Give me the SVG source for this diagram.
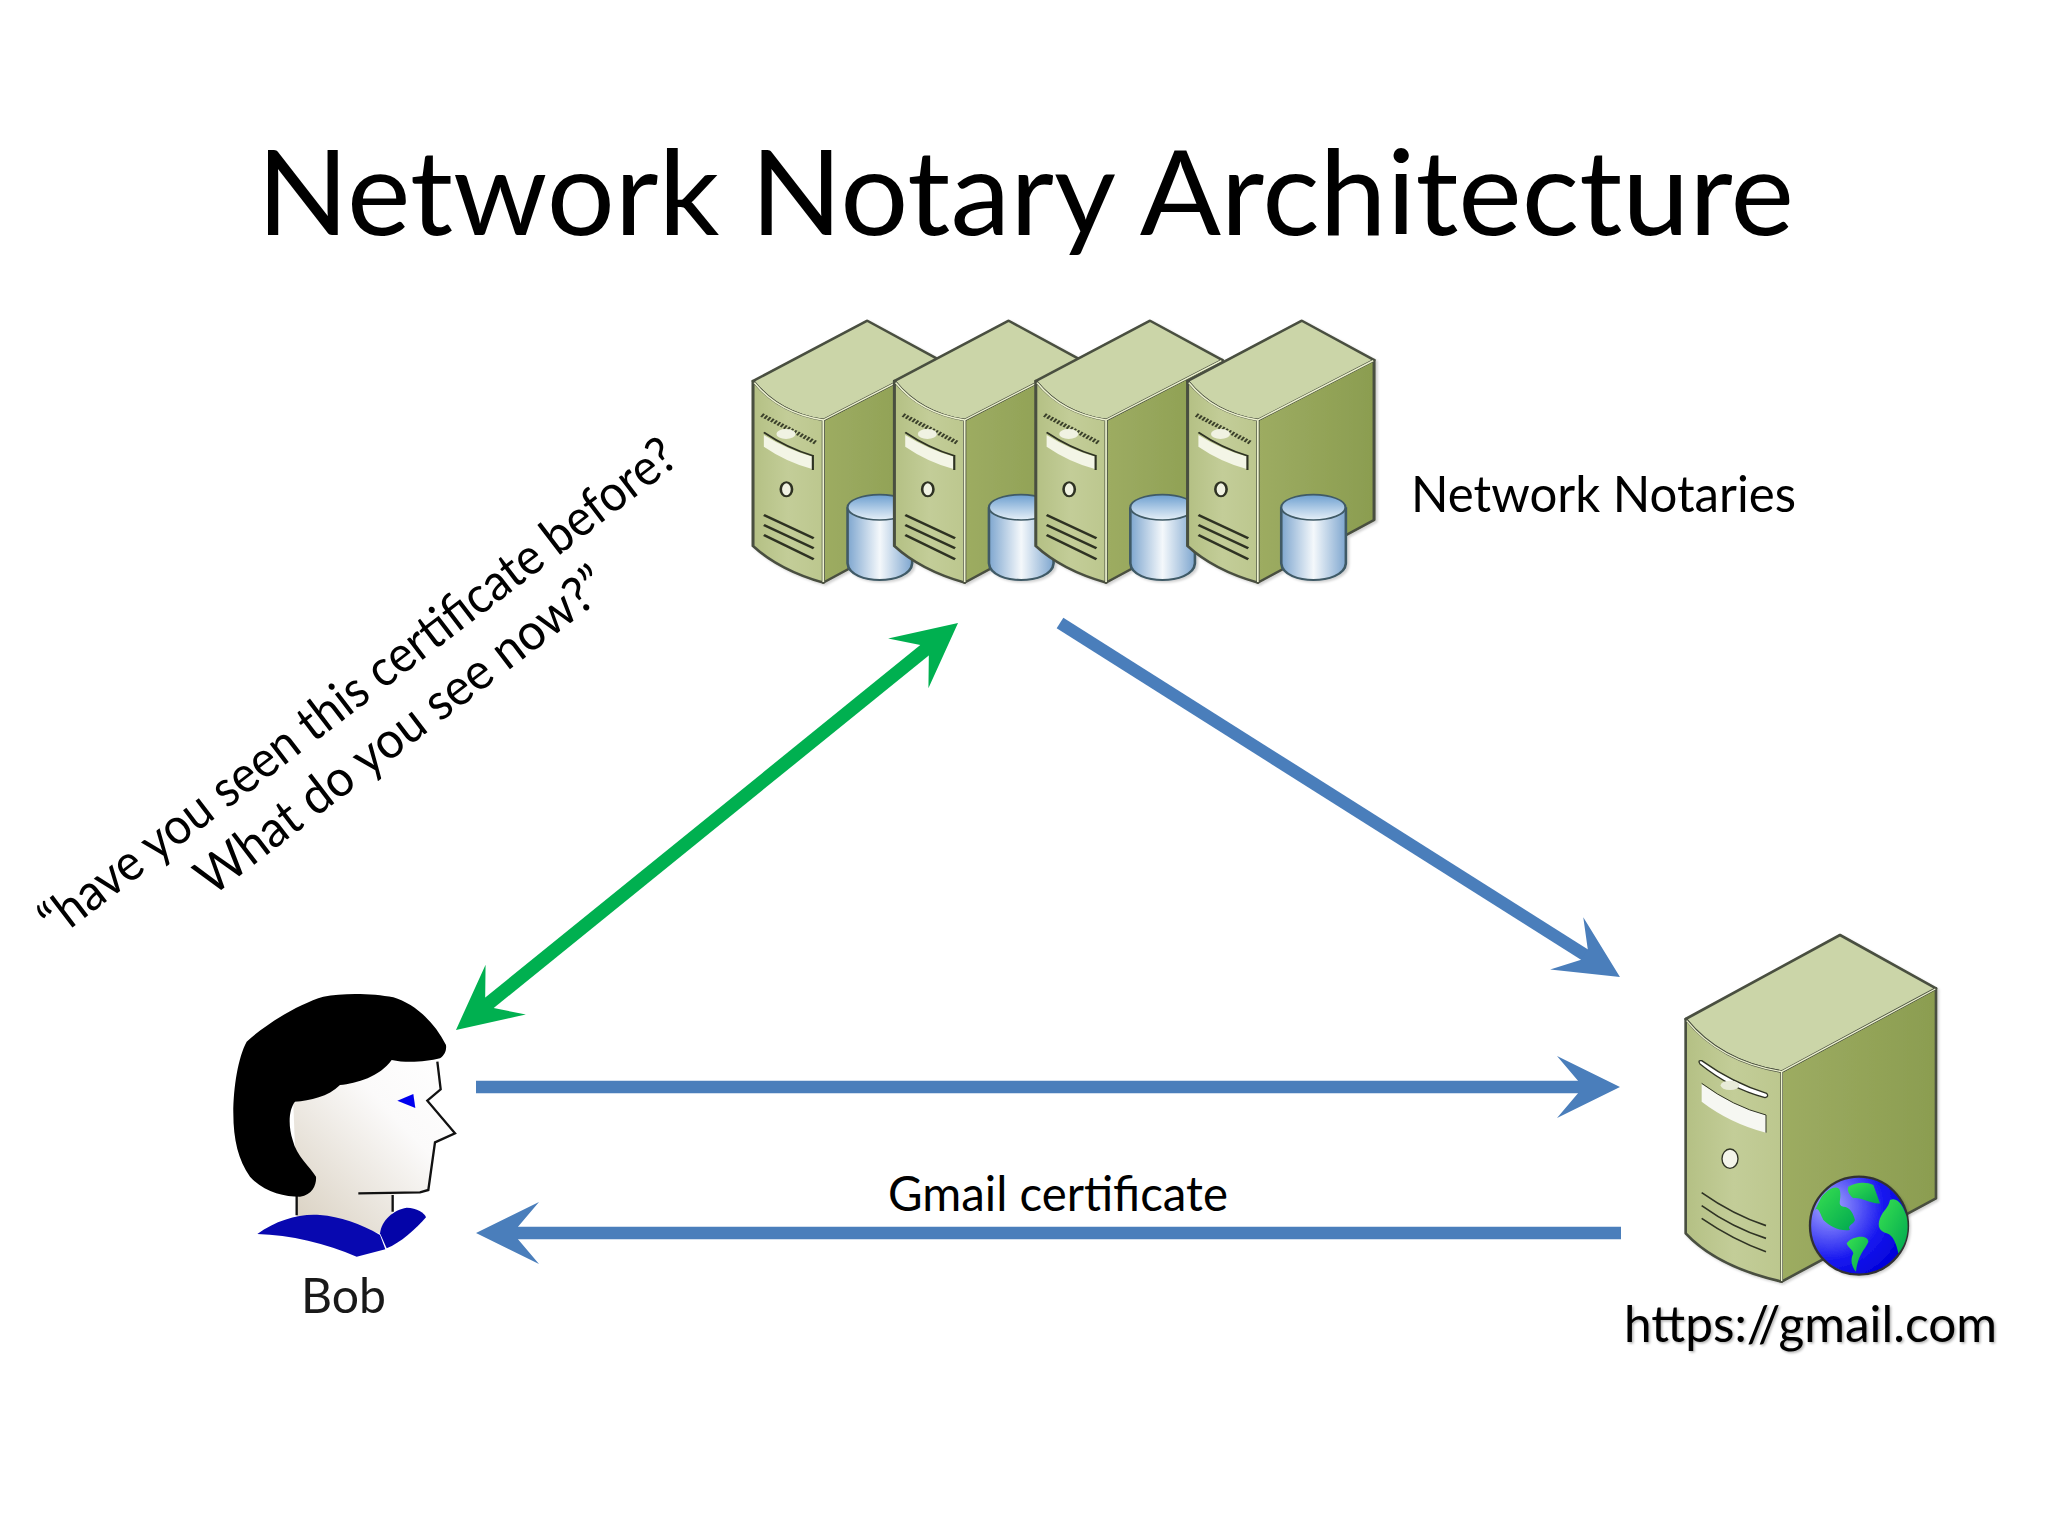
<svg xmlns="http://www.w3.org/2000/svg" width="2048" height="1536" viewBox="0 0 2048 1536">
<style>
text{font-family:"Lato","Open Sans","Liberation Sans",sans-serif;fill:#000}
.st{fill:#cbd5a8;stroke:#4a4f40;stroke-width:7;stroke-linejoin:round}
.sf{fill:url(#frontG);stroke:#4a4f40;stroke-width:7;stroke-linejoin:round}
.ss{fill:url(#sideG);stroke:#4a4f40;stroke-width:7;stroke-linejoin:round}
.hl{fill:none;stroke:#eef3cf;stroke-width:4}
.vent{fill:none;stroke:#2f3324;stroke-width:7}
.bt{fill:none;stroke:#2f3324;stroke-width:5}
.blue{stroke:#4a7ebb;stroke-width:12.5;fill:none}
.green{stroke:#00b050;stroke-width:13.5;fill:none}
</style>
<defs>
<linearGradient id="frontG" x1="0" y1="0" x2="1" y2="0"><stop offset="0" stop-color="#b4c084"/><stop offset=".5" stop-color="#c3cd98"/><stop offset="1" stop-color="#bcc78e"/></linearGradient>
<linearGradient id="sideG" x1="0" y1="0" x2="1" y2="0"><stop offset="0" stop-color="#9dac62"/><stop offset="1" stop-color="#8b9d50"/></linearGradient>
<linearGradient id="cylB" x1="0" y1="0" x2="1" y2="0"><stop offset="0" stop-color="#7ea6cf"/><stop offset=".5" stop-color="#f4f8fb"/><stop offset="1" stop-color="#7ea6cf"/></linearGradient>
<linearGradient id="cylT" x1="0" y1="0" x2="0" y2="1"><stop offset="0" stop-color="#6d9fd0"/><stop offset="1" stop-color="#e6f0f8"/></linearGradient>
<linearGradient id="faceG" x1="0" y1="1" x2="1" y2="0"><stop offset="0" stop-color="#d8cfbf"/><stop offset=".65" stop-color="#fbfafa"/><stop offset="1" stop-color="#fff"/></linearGradient>
<radialGradient id="seaG" cx=".2" cy=".3" r=".85"><stop offset="0" stop-color="#a8a8ff"/><stop offset=".65" stop-color="#1818f0"/><stop offset="1" stop-color="#0000d8"/></radialGradient>
<linearGradient id="landG" x1="0" y1="0" x2="1" y2="1"><stop offset="0" stop-color="#38e050"/><stop offset="1" stop-color="#00a850"/></linearGradient>
<filter id="shadow" x="-10%" y="-10%" width="125%" height="125%"><feDropShadow dx="5" dy="5" stdDeviation="3" flood-color="#000" flood-opacity=".18"/></filter>
<filter id="tshadow" x="-5%" y="-20%" width="110%" height="140%"><feDropShadow dx="1.5" dy="1.5" stdDeviation="1" flood-color="#000" flood-opacity=".3"/></filter>
<marker id="headBlue" markerUnits="userSpaceOnUse" markerWidth="70" markerHeight="70" viewBox="-65 -35 70 70" refX="-30" refY="0" orient="auto-start-reverse"><path d="M0,0L-63,-31L-42,-6.2L-42,6.2L-63,31Z" fill="#4a7ebb"/></marker>
<marker id="headGreen" markerUnits="userSpaceOnUse" markerWidth="70" markerHeight="70" viewBox="-65 -35 70 70" refX="-30" refY="0" orient="auto-start-reverse"><path d="M0,0L-64,-32L-43,-6.7L-43,6.7L-64,32Z" fill="#00b050"/></marker>
<g id="smallServer">
<path class="ss" d="M192,360L460,180L460,660L192,848Z"/>
<path class="st" d="M293,62L460,180L192,360Q90,340 30,243Z"/>
<path class="sf" d="M30,243Q90,340 192,360L192,848Q90,810 30,738Z"/>
<path class="hl" d="M33,248Q90,340 192,360L192,846M192,360L458,182"/>
<path d="M50,345L175,428" fill="none" stroke="#3a3f2a" stroke-width="12" stroke-dasharray="5 4"/>
<ellipse cx="106" cy="402" rx="22" ry="15" fill="#f0f2e2"/>
<path d="M55,405Q110,450 168,470L168,508Q105,485 55,440Z" fill="#f3f5e6"/>
<path class="bt" d="M55,397Q110,445 168,467L168,510"/>
<ellipse cx="107" cy="568" rx="13" ry="21" fill="#f0f2e2" stroke="#2f3324" stroke-width="6"/>
<path class="vent" d="M55,645L170,715M55,675L170,745M55,705L170,778"/>
</g>
<g id="cylinder">
<path d="M248,625V790C250,825 290,840 322,840C355,840 395,825 397,790V625Z" fill="url(#cylB)" stroke="#3f5a66" stroke-width="6"/>
<ellipse cx="322" cy="622" rx="74" ry="38" fill="url(#cylT)" stroke="#3f5a66" stroke-width="5"/>
</g>
</defs>
<rect width="2048" height="1536" fill="#fff"/>
<g id="title"><text x="257" y="235" font-size="119" textLength="1537" lengthAdjust="spacingAndGlyphs">Network Notary Architecture</text></g>

<g id="notaries">
<g transform="translate(740,300) scale(.4337,.33333)" filter="url(#shadow)">
<use href="#smallServer"/><use href="#cylinder"/>
<use href="#smallServer" x="326"/><use href="#cylinder" x="326"/>
<use href="#smallServer" x="652"/><use href="#cylinder" x="652"/>
<use href="#smallServer" x="1002"/><use href="#cylinder" x="1000"/>
</g>
<text x="1411" y="512" font-size="50" textLength="385" lengthAdjust="spacingAndGlyphs">Network Notaries</text>
</g>

<g id="query">
<text transform="translate(56,940) rotate(-37.4)" font-size="51" textLength="786" lengthAdjust="spacingAndGlyphs">“have you seen this certificate before?</text>
<text transform="translate(212,897) rotate(-37.4)" font-size="51" textLength="503" lengthAdjust="spacingAndGlyphs">What do you see now?”</text>
</g>

<g id="connectors">
<line class="green" x1="479.3" y1="1011" x2="934.7" y2="642" marker-start="url(#headGreen)" marker-end="url(#headGreen)"/>
<line class="blue" x1="1060" y1="623" x2="1594.6" y2="961" marker-end="url(#headBlue)"/>
<line class="blue" x1="476" y1="1087" x2="1590" y2="1087" marker-end="url(#headBlue)"/>
<line class="blue" x1="1621" y1="1233" x2="506" y2="1233" marker-end="url(#headBlue)"/>
<text x="888" y="1211" font-size="48" textLength="340" lengthAdjust="spacingAndGlyphs">Gmail certificate</text>
</g>

<g id="bob">
<g transform="translate(200,980) scale(.33333)">
<path d="M280,370L575,240L712,245L722,328L682,362L765,460L705,487L685,630L660,637L578,645V700L540,760L290,710V640Z" fill="url(#faceG)"/>
<path d="M712,245L722,328L682,362L765,460L705,487L685,630L660,637L475,640M578,645V695M290,648V706" fill="none" stroke="#111" stroke-width="7" stroke-linejoin="miter"/>
<path d="M738,195C700,120 640,70 580,52C520,40 430,38 370,50C300,70 200,130 140,185C115,230 100,320 100,400C100,480 115,540 150,590C190,635 250,650 300,650C340,645 350,610 348,590C330,560 290,530 278,480C265,440 265,390 285,365C330,362 385,350 420,315C470,310 540,290 575,240C620,250 680,245 720,235C735,225 740,210 738,195Z" fill="#000"/>
<path d="M592,362L640,342L646,384Z" fill="#0000ee"/>
<path d="M172,762C230,720 300,700 360,705C420,710 480,730 540,765L556,808L470,830C380,790 270,765 172,762Z" fill="#0808b0"/>
<path d="M540,760C545,720 580,690 620,683C650,683 675,700 678,712C650,745 600,790 560,805Z" fill="#0404a8"/>
</g>
<text x="301" y="1313" font-size="48" textLength="85" lengthAdjust="spacingAndGlyphs" fill-opacity=".9">Bob</text>
</g>

<g id="gmail-server">
<g transform="translate(1620,920) scale(.33333)">
<g filter="url(#shadow)">
<path class="ss" d="M485,455L948,205V835L485,1085Z" style="stroke-width:8"/>
<path class="st" d="M660,45L948,205L485,455Q300,425 197,297Z" style="stroke-width:8"/>
<path class="sf" d="M197,297Q300,425 485,455V1085Q290,1040 197,940Z" style="stroke-width:8"/>
</g>
<path class="hl" d="M200,302Q300,425 485,455V1083M485,455L946,207"/>
<path d="M245,422Q340,490 440,520Q448,530 435,533Q330,505 240,432Q232,420 245,422Z" fill="#fff" stroke="#2f3324" stroke-width="4"/>
<ellipse cx="330" cy="496" rx="28" ry="14" fill="#e8ebd8"/>
<path d="M245,492Q340,560 438,585V638Q330,610 245,545Z" fill="#f6f7f2"/>
<path class="bt" d="M245,490Q340,560 438,585V638" style="stroke-width:3"/>
<ellipse cx="330" cy="716" rx="24" ry="29" fill="#f4f5ea" stroke="#2f3324" stroke-width="4"/>
<path class="vent" d="M245,818Q340,885 438,917M245,857Q340,925 438,955M245,895Q340,960 438,995" style="stroke-width:5"/>
<g filter="url(#shadow)"><circle cx="717" cy="917" r="147" fill="url(#seaG)" stroke="#333" stroke-width="7"/></g>
<path d="M605,830C630,800 655,795 660,812C665,840 650,855 670,860C690,860 700,880 705,900C700,915 680,915 690,930C660,935 630,920 610,900C600,880 595,860 585,870Z" fill="url(#landG)"/>
<path d="M685,800C710,785 740,785 760,795L780,850C760,855 720,830 700,835C690,825 680,815 685,800Z" fill="url(#landG)"/>
<path d="M810,840C835,830 850,860 860,890C868,930 860,970 835,1000C830,975 820,945 800,940C780,935 770,920 780,895C790,870 805,865 810,840Z" fill="url(#landG)"/>
<path d="M680,970C700,945 745,945 745,965C735,990 715,1000 708,1055C695,1040 690,1020 700,1000C695,985 685,985 680,970Z" fill="url(#landG)"/>
</g>
<text x="1624" y="1342" font-size="50" textLength="373" lengthAdjust="spacingAndGlyphs" filter="url(#tshadow)">https://gmail.com</text>
</g>
</svg>
